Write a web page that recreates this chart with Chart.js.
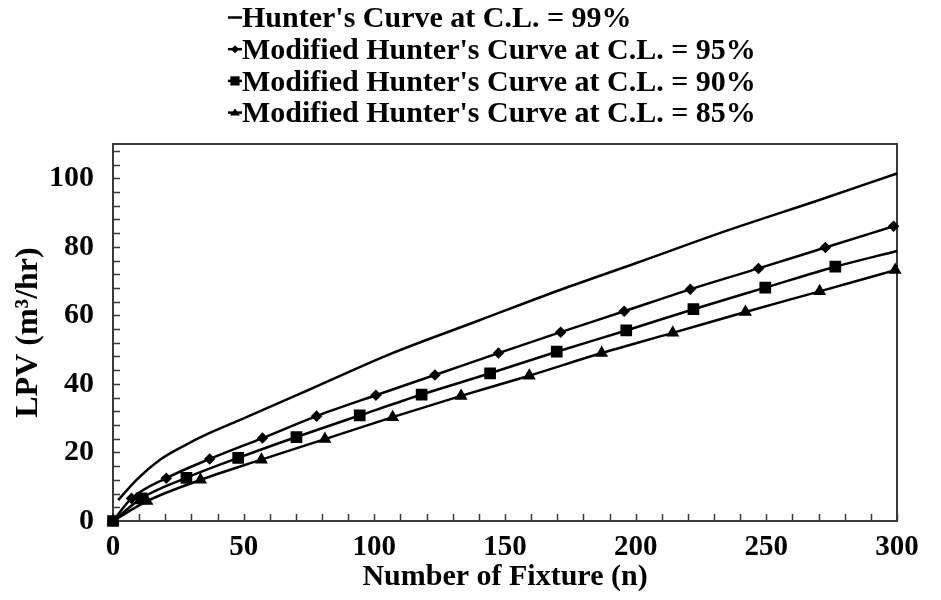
<!DOCTYPE html>
<html><head><meta charset="utf-8">
<script src="https://cdn.jsdelivr.net/npm/chart.js@4.4.1/dist/chart.umd.min.js"></script>
<style>html,body{margin:0;padding:0;background:#fff}#wrap{width:941px;height:600px;position:relative}</style>
</head><body><div id="wrap"><canvas id="c" width="941" height="600"></canvas></div>
<script>
// ---- data ----
const seriesNames = [
  "Hunter's Curve at C.L. = 99%",
  "Modified Hunter's Curve at C.L. = 95%",
  "Modified Hunter's Curve at C.L. = 90%",
  "Modified Hunter's Curve at C.L. = 85%"
];
const hunterN = [2, 9, 18, 28, 37, 48, 75, 106, 140, 171, 200, 236, 270, 300];
const hunterV = [6.1, 12, 17.9, 22.3, 25.7, 29.3, 38.3, 48.7, 58.5, 67.4, 75.2, 85, 93.6, 101.4];
const mod95N = [0, 7.1, 20.4, 37, 57.2, 77.9, 100.6, 123.2, 147.5, 171.3, 195.6, 220.9, 247, 272.6, 298.7];
const mod95V = [0, 6.6, 12.5, 18.1, 24.2, 30.6, 36.7, 42.6, 49, 55.1, 61.2, 67.6, 73.7, 79.8, 86];
const mod90N = [0, 10.9, 28.1, 47.9, 70.2, 94.4, 118.1, 144.3, 169.8, 196.4, 222.1, 249.6, 276.4, 300];
const mod90V = [0, 6.6, 12.6, 18.4, 24.5, 30.8, 36.9, 43.1, 49.4, 55.6, 61.8, 68.1, 74.2, 78.8];
const mod85N = [0, 13, 33.5, 56.8, 81.1, 107, 133.2, 159.3, 187, 214.2, 242, 270.4, 299.3];
const mod85V = [0, 5.8, 12, 17.9, 23.9, 30.3, 36.5, 42.4, 49, 54.9, 61, 67, 73.2];
const xTickLabels = [0, 50, 100, 150, 200, 250, 300];
const yTickLabels = [0, 20, 40, 60, 80, 100];
const xTitle = "Number of Fixture (n)";
const yTitle = "LPV (m\u00B3/hr)";

const FONT = "'Liberation Serif','Times New Roman',serif";
function pts(ns, vs) { return ns.map((n, i) => ({ x: n, y: vs[i] })); }

function drawMarker(ctx, style, r, x, y) {
  ctx.beginPath();
  if (style === 'rectRot') {
    ctx.moveTo(x, y - r); ctx.lineTo(x + r, y); ctx.lineTo(x, y + r); ctx.lineTo(x - r, y); ctx.closePath();
  } else if (style === 'rect') {
    const s = r * Math.SQRT1_2; ctx.rect(x - s, y - s, 2 * s, 2 * s);
  } else if (style === 'triangle') {
    const h = r * 1.2;
    ctx.moveTo(x, y - h * 0.7); ctx.lineTo(x + r, y + h * 0.5); ctx.lineTo(x - r, y + h * 0.5); ctx.closePath();
  }
  ctx.fill();
}

const frame = {
  id: 'frame',
  beforeDatasetsDraw(chart) {
    const { ctx, chartArea: a, scales: { x, y } } = chart;
    ctx.save();
    ctx.strokeStyle = '#3a3a3a';
    ctx.lineWidth = 2;
    ctx.strokeRect(a.left, a.top, a.right - a.left, a.bottom - a.top);
    ctx.lineWidth = 1.5;
    ctx.beginPath();
    for (let v = 0; v <= 110; v += 4) {
      const py = Math.round(y.getPixelForValue(v)) + 0.5;
      ctx.moveTo(a.left, py); ctx.lineTo(a.left + 7, py);
    }
    for (let v = 0; v <= 300; v += 10) {
      const px = Math.round(x.getPixelForValue(v)) + 0.5;
      ctx.moveTo(px, a.bottom); ctx.lineTo(px, a.bottom - 7);
    }
    ctx.stroke();
    ctx.restore();
  },
  afterDraw(chart) {
    const ctx = chart.ctx;
    ctx.save();
    chart.data.datasets.forEach((ds, i) => {
      const yy = 17.5 + i * 31.7;
      ctx.strokeStyle = '#000'; ctx.fillStyle = '#000'; ctx.lineWidth = 2.5;
      ctx.beginPath(); ctx.moveTo(228, yy); ctx.lineTo(242, yy); ctx.stroke();
      if (ds.legendRadius) drawMarker(ctx, ds.pointStyle, ds.legendRadius, 235, yy);
      ctx.font = 'bold 30px ' + FONT;
      ctx.textBaseline = 'middle';
      ctx.textAlign = 'left';
      ctx.fillText(ds.label, 242, yy + 2);
    });
    ctx.restore();
  }
};

const common = { borderColor: '#000', backgroundColor: '#000', borderWidth: 2.5, cubicInterpolationMode: 'monotone', clip: false, showLine: true };

new Chart(document.getElementById('c'), {
  type: 'scatter',
  data: {
    datasets: [
      Object.assign({}, common, { label: seriesNames[0], data: pts(hunterN, hunterV), pointRadius: 0, legendRadius: 0 }),
      Object.assign({}, common, { label: seriesNames[1], data: pts(mod95N, mod95V), pointStyle: 'rectRot', pointRadius: 4, legendRadius: 4 }),
      Object.assign({}, common, { label: seriesNames[2], data: pts(mod90N, mod90V), pointStyle: 'rect', pointRadius: mod90N.map((n, i) => i === mod90N.length - 1 ? 0 : 6.5), legendRadius: 6.5 }),
      Object.assign({}, common, { label: seriesNames[3], data: pts(mod85N, mod85V), pointStyle: 'triangle', pointRadius: 5, legendRadius: 5 })
    ]
  },
  options: {
    responsive: false,
    animation: false,
    devicePixelRatio: 1,
    layout: { padding: { top: 144, right: 44, left: 0, bottom: 0 } },
    plugins: { legend: { display: false }, tooltip: { enabled: false } },
    elements: { point: { borderWidth: 0, hoverRadius: 0 } },
    scales: {
      x: {
        type: 'linear', min: 0, max: 300,
        grid: { display: false }, border: { display: false },
        afterBuildTicks: s => { s.ticks = xTickLabels.map(v => ({ value: v })); },
        afterFit: s => { s.height = 79; },
        ticks: { color: '#000', font: { family: FONT, size: 29, weight: 'bold' }, padding: 1, maxRotation: 0 },
        title: { display: true, text: xTitle, color: '#000', font: { family: FONT, size: 30, weight: 'bold' }, padding: { top: 0, bottom: 5 } }
      },
      y: {
        type: 'linear', min: 0, max: 110,
        grid: { display: false }, border: { display: false },
        afterBuildTicks: s => { s.ticks = yTickLabels.map(v => ({ value: v })); },
        afterFit: s => { s.width = 113; },
        ticks: { color: '#000', font: { family: FONT, size: 30, weight: 'bold' }, padding: 11 },
        title: { display: true, text: yTitle, color: '#000', font: { family: FONT, size: 32, weight: 'bold' }, padding: { top: 10, bottom: 0 } }
      }
    }
  },
  plugins: [frame]
});
</script>
</body></html>
